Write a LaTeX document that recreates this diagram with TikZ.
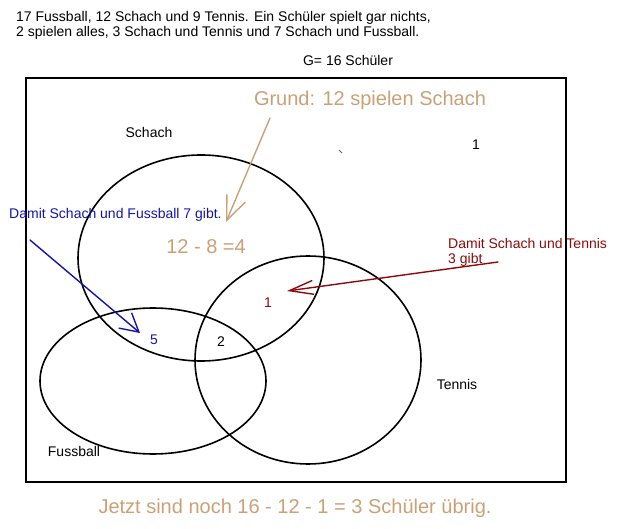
\documentclass[tikz,border=0pt]{standalone}
\usepackage{fontspec}
\setmainfont{Liberation Sans}
\usetikzlibrary{arrows.meta}
\definecolor{hinttan}{RGB}{203,160,118}
\definecolor{hintblue}{RGB}{20,20,170}
\definecolor{hintred}{RGB}{140,10,10}
\tikzset{
  label/.style={inner sep=0pt,font=\fontsize{14}{15}\selectfont},
  biglabel/.style={inner sep=0pt,font=\fontsize{20}{22}\selectfont,text=hinttan},
  set/.style={line width=1.6pt},
  hint/.style={line width=1.4pt,line cap=round,line join=round}
}
\begin{document}
\begin{tikzpicture}[x=1pt,y=-1pt]
  \useasboundingbox (0,0) rectangle (621,529);

  % task text
  \node[label,anchor=north west,align=left] (task) at (16,11)
    {17 Fussball, 12 Schach und 9 Tennis. Ein Schüler spielt gar nichts,\\
     2 spielen alles, 3 Schach und Tennis und 7 Schach und Fussball.};
  \node[label] (total) at (348,60) {G= 16 Schüler};

  % universe and the three sets
  \draw[line width=1.8pt] (26,78) rectangle (566,482);
  \draw[set] (201,258) ellipse[x radius=123, y radius=103];
  \draw[set] (153,381) ellipse[x radius=113, y radius=73];
  \draw[set] (308,360) ellipse[x radius=113, y radius=104];

  \node[label] (schach) at (149,132) {Schach};
  \node[label] (tennis) at (457,384) {Tennis};
  \node[label] (fussball) at (74,451) {Fussball};
  \node[label] (none) at (476,145) {1};
  \node[label] (all) at (221,342) {2};
  \node[label,text=hintblue] (sf) at (154,340) {5};
  \node[label,text=hintred] (st) at (268,303) {1};
  \node[biglabel] (sonly) at (206,247) {12 - 8 =4};
  \draw[line width=0.8pt,hinttan!60!black] (339,150) -- (342,153);

  % hints
  \node[biglabel] (grund) at (370,100) {Grund: 12 spielen Schach};
  \coordinate (grundtail) at (270,118);
  \coordinate (grundtip) at (226,222);
  \draw[hint,hinttan,-{Straight Barb[length=24pt,width=20pt,line width=1.4pt]}]
    (grundtail) -- (grundtip);

  \node[label,text=hintblue,anchor=west] (sfhint) at (9,215) {Damit Schach und Fussball 7 gibt.};
  \coordinate (sftail) at (30,240);
  \coordinate (sftip) at (140,333);
  \draw[hint,hintblue,-{Straight Barb[length=18pt,width=20pt,line width=1.4pt]}]
    (sftail) -- (sftip);

  \node[label,text=hintred,anchor=north west,align=left] (sthint) at (448,238)
    {Damit Schach und Tennis\\3 gibt};
  \coordinate (sttail) at (498,262);
  \coordinate (sttip) at (287,291);
  \draw[hint,hintred,-{Straight Barb[length=24pt,width=14pt,line width=1.4pt]}]
    (sttail) -- (sttip);

  % result
  \node[biglabel] (result) at (295,508) {Jetzt sind noch 16 - 12 - 1 = 3 Schüler übrig.};
\end{tikzpicture}
\end{document}
